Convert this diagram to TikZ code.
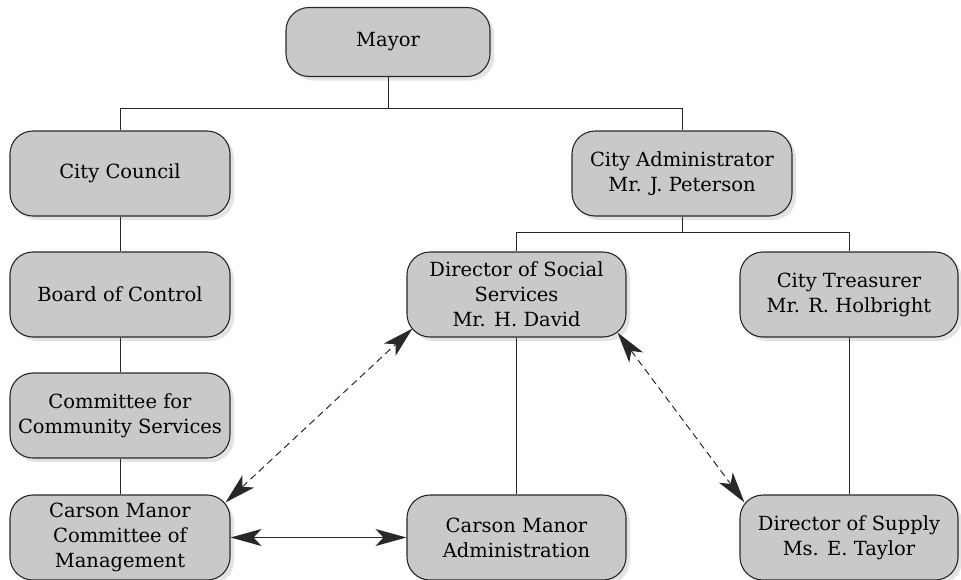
\documentclass[tikz,border=0pt]{standalone}
\usepackage{fontspec}
\setmainfont{DejaVu Serif}
\usetikzlibrary{shadows,arrows.meta}
\definecolor{boxfill}{RGB}{200,201,203}
\definecolor{boxline}{RGB}{40,40,40}
\begin{document}
\begin{tikzpicture}[x=1pt,y=-1pt,
  orgbox/.style={draw=boxline, line width=1.1pt, fill=boxfill,
    rounded corners=23pt, minimum width=220pt, minimum height=85pt,
    inner sep=0pt, align=center,
    font=\fontsize{19.5}{25}\selectfont,
    drop shadow={shadow xshift=4pt, shadow yshift=-4pt, fill=black!11, opacity=1}},
  link/.style={draw=boxline, line width=0.9pt},
  tip/.tip={Stealth[length=31pt,width=17pt,inset=8pt]},
  relation/.style={draw=boxline, line width=1pt, tip-tip},
  relation dashed/.style={relation, dash pattern=on 7pt off 4.5pt}]
\useasboundingbox (0,0) rectangle (961,579);

% boxes
\node[orgbox, minimum width=204pt, minimum height=69pt] (mayor) at (388,42) {Mayor};
\node[orgbox] (council) at (120,173.5) {City Council};
\node[orgbox] (admin) at (682,173.5) {City Administrator\\Mr. J. Peterson};
\node[orgbox] (board) at (120,294.5) {Board of Control};
\node[orgbox, minimum width=219pt] (social) at (516.5,294.5) {Director of Social\\Services\\Mr. H. David};
\node[orgbox, minimum width=218pt] (treasurer) at (849,294.5) {City Treasurer\\Mr. R. Holbright};
\node[orgbox] (committee) at (120,415.5) {Committee for\\Community Services};
\node[orgbox] (management) at (120,537.5) {Carson Manor\\Committee of\\Management};
\node[orgbox, minimum width=219pt] (administration) at (516.5,537.5) {Carson Manor\\Administration};
\node[orgbox, minimum width=218pt] (supply) at (849,537.5) {Director of Supply\\Ms. E. Taylor};

% reporting lines
\draw[link] (mayor.south) -- ++(0,31) -| (council.north);
\draw[link] (mayor.south) -- ++(0,31) -| (admin.north);
\draw[link] (admin.south) -- ++(0,16) -| (social.north);
\draw[link] (admin.south) -- ++(0,16) -| (treasurer.north);
\draw[link] (council) -- (board);
\draw[link] (board) -- (committee);
\draw[link] (committee) -- (management);
\draw[link] (social) -- (administration);
\draw[link] (treasurer) -- (supply);

% working relationships
\draw[relation] (management.east) -- (administration.west);
\draw[relation dashed] ([shift={(-5,8)}]management.north east) -- ([shift={(6,-9)}]social.south west);
\draw[relation dashed] ([shift={(-9,-5)}]social.south east) -- ([shift={(5,8)}]supply.north west);
\end{tikzpicture}
\end{document}
